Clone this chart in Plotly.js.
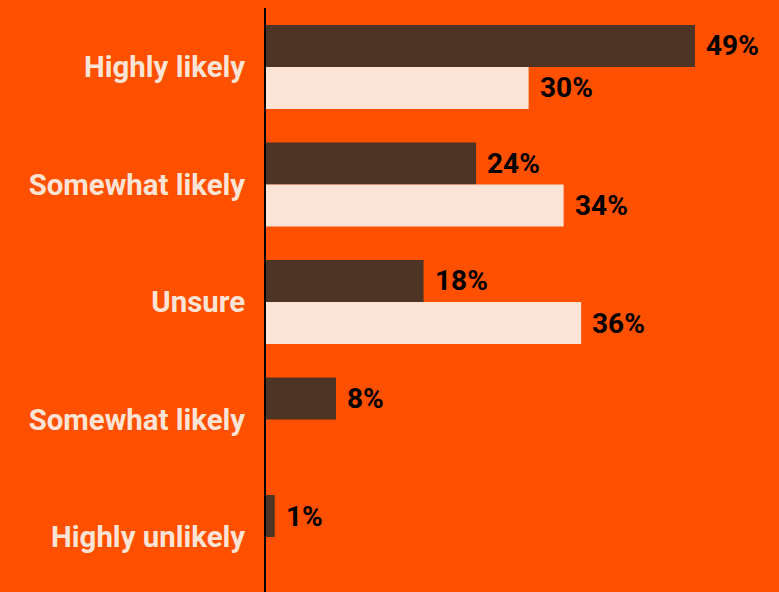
<!DOCTYPE html>
<html>
<head>
<meta charset="utf-8">
<script src="https://cdn.plot.ly/plotly-3.0.1.min.js"></script>
<style>html,body{margin:0;padding:0;background:#FF5000;}#chart{width:779px;height:592px;}</style>
</head>
<body>
<div id="chart"></div>
<script>
const categories = ["Highly likely", "Somewhat likely", "Unsure", "Somewhat likely", "Highly unlikely"];
const seriesA = [49, 24, 18, 8, 1];
const seriesB = [30, 34, 36, null, null];

const idx = categories.map((c, i) => i);
const brown = "#4E3424";
const peach = "#FBE4D5";
const bg = "#FF5000";

const traceA = {
  type: "bar", orientation: "h", x: seriesA, y: idx,
  marker: {color: brown}, name: "A", hoverinfo: "none"
};
const traceB = {
  type: "bar", orientation: "h", x: seriesB, y: idx,
  marker: {color: peach}, name: "B", hoverinfo: "none"
};

const bargap = 0.285;
const half = (1 - bargap) / 4;
const labelFont = {family: "Roboto", size: 28, color: "#000", weight: "bold"};
const annotations = [];
seriesA.forEach((v, i) => {
  if (v !== null) annotations.push({x: v, y: i - half, text: v + "%", showarrow: false, xanchor: "left", yanchor: "middle", xshift: 9, font: labelFont});
});
seriesB.forEach((v, i) => {
  if (v !== null) annotations.push({x: v, y: i + half, text: v + "%", showarrow: false, xanchor: "left", yanchor: "middle", xshift: 9, font: labelFont});
});

const layout = {
  width: 779, height: 592,
  paper_bgcolor: bg, plot_bgcolor: bg,
  margin: {l: 266, r: 0, t: 8, b: 0},
  barmode: "group", bargap: bargap, bargroupgap: 0,
  showlegend: false,
  xaxis: {range: [0, 58.6], showgrid: false, zeroline: false, showline: false, showticklabels: false, fixedrange: true},
  yaxis: {
    range: [4.468, -0.502], tickmode: "array", tickvals: idx, ticktext: categories,
    showgrid: false, zeroline: false, showline: true, linecolor: "#000", linewidth: 2,
    ticks: "", ticklabelstandoff: 13,
    tickfont: {family: "Roboto", size: 29.4, color: peach, weight: "bold"}
  },
  annotations: annotations,
  font: {family: "Roboto"}
};

Plotly.newPlot("chart", [traceA, traceB], layout, {displayModeBar: false, staticPlot: true});
</script>
</body>
</html>
